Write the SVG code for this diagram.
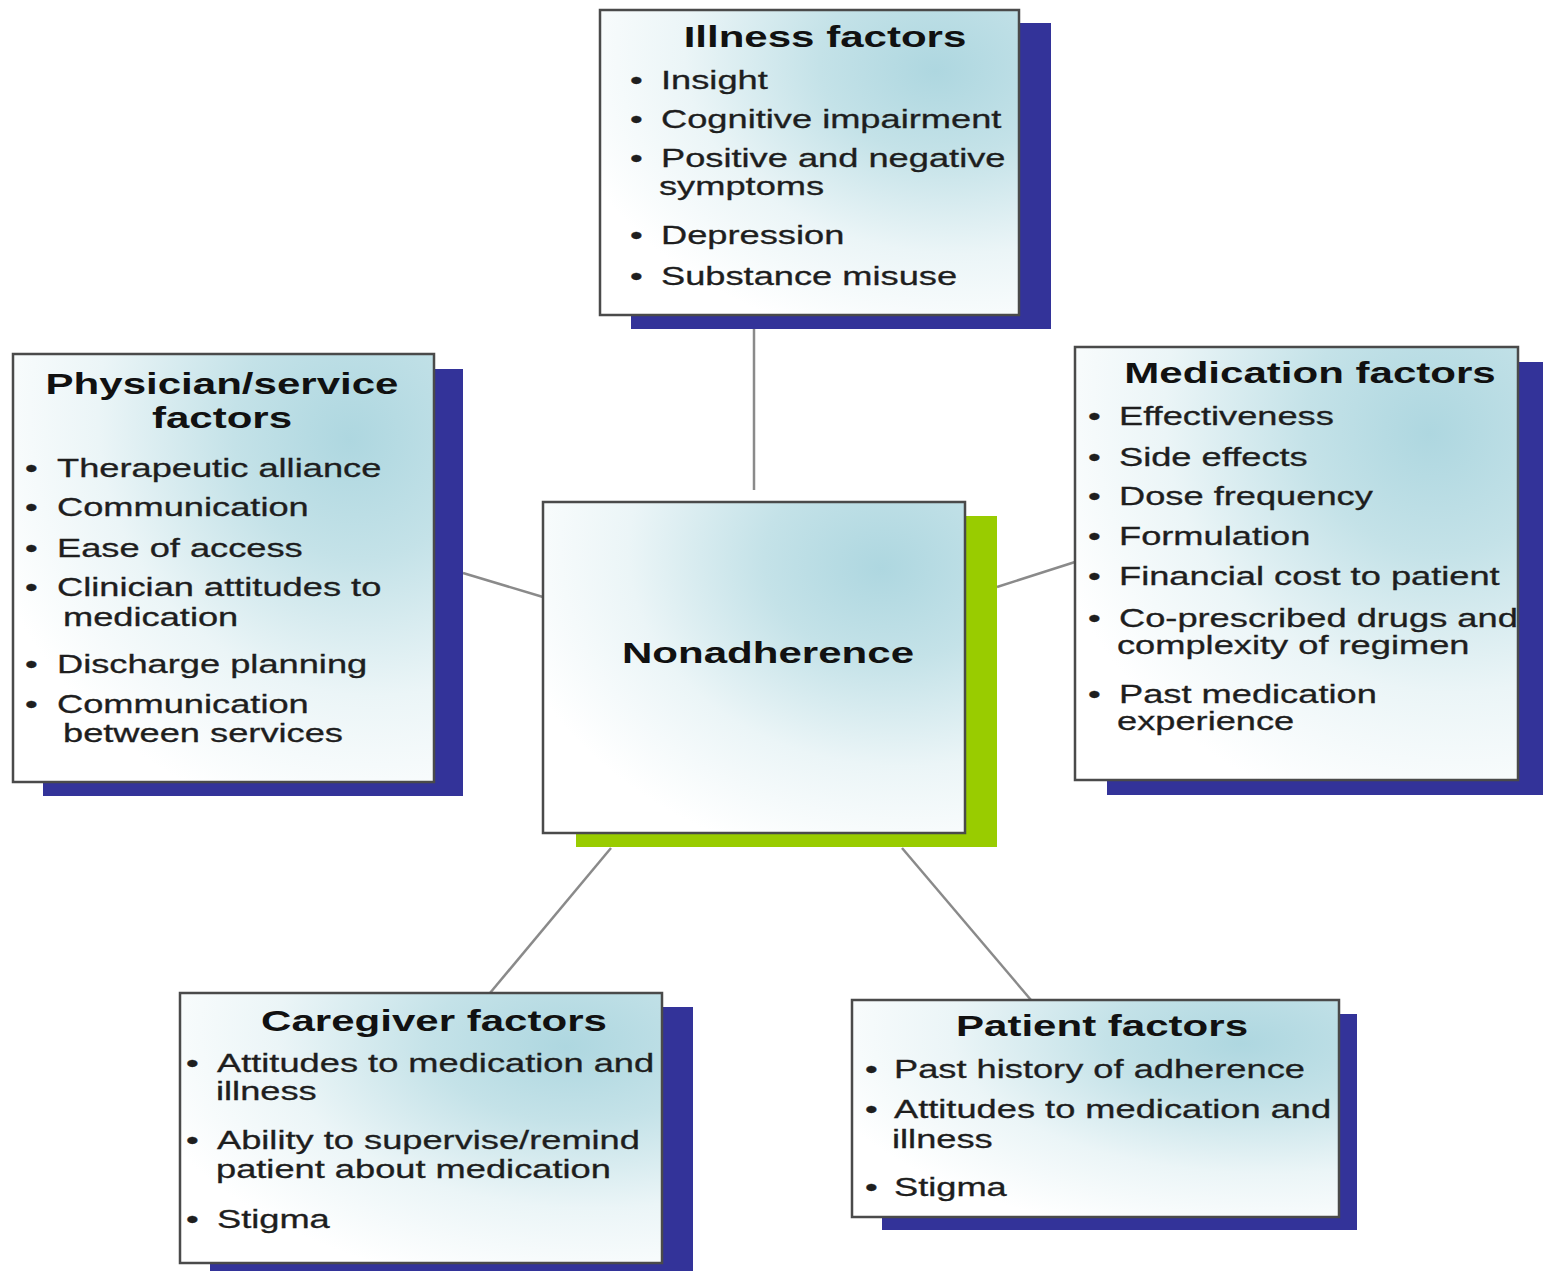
<svg xmlns="http://www.w3.org/2000/svg" width="1543" height="1271" viewBox="0 0 1543 1271">
<defs>
<radialGradient id="fillG" cx="0.88" cy="0.12" r="1.0" fx="0.8" fy="0.2">
<stop offset="0" stop-color="#AED7E0"/>
<stop offset="0.3" stop-color="#C4E2E8"/>
<stop offset="0.65" stop-color="#EBF5F7"/>
<stop offset="1" stop-color="#FFFFFF"/>
</radialGradient>
</defs>
<style>
.box{fill:url(#fillG);stroke:#4a4a4a;stroke-width:2.5}
.sh{fill:#333399}
.shg{fill:#99CC00}
.t{font-family:"Liberation Sans",Arial,sans-serif;font-weight:bold;font-size:29px;fill:#111;text-anchor:middle}
.b{font-family:"Liberation Sans",Arial,sans-serif;font-size:25px;fill:#1e1e1e;stroke:#1e1e1e;stroke-width:0.3}
.c{stroke:#8a8a8a;stroke-width:2.5;fill:none}
</style>
<rect width="1543" height="1271" fill="#fff"/>
<g id="connectors">
<line class="c" x1="754" y1="329" x2="754" y2="490"/>
<line class="c" x1="463" y1="573" x2="543" y2="597"/>
<line class="c" x1="997" y1="587" x2="1075" y2="562"/>
<line class="c" x1="611" y1="848" x2="490" y2="993"/>
<line class="c" x1="902" y1="848" x2="1031" y2="1000"/>
</g>
<g id="illness">
<rect class="sh" x="631" y="23" width="420" height="306"/>
<rect class="box" x="600" y="10" width="419" height="305"/>
<text class="t" transform="translate(825,47) scale(1.45,1)">Illness factors</text>
<text class="b" transform="translate(630,89) scale(1.45,1)">•</text>
<text class="b" transform="translate(661,89) scale(1.45,1)">Insight</text>
<text class="b" transform="translate(630,128) scale(1.45,1)">•</text>
<text class="b" transform="translate(661,128) scale(1.45,1)">Cognitive impairment</text>
<text class="b" transform="translate(630,167) scale(1.45,1)">•</text>
<text class="b" transform="translate(661,167) scale(1.45,1)">Positive and negative</text>
<text class="b" transform="translate(659,195) scale(1.45,1)">symptoms</text>
<text class="b" transform="translate(630,244) scale(1.45,1)">•</text>
<text class="b" transform="translate(661,244) scale(1.45,1)">Depression</text>
<text class="b" transform="translate(630,285) scale(1.45,1)">•</text>
<text class="b" transform="translate(661,285) scale(1.45,1)">Substance misuse</text>
</g>
<g id="physician">
<rect class="sh" x="43" y="369" width="420" height="427"/>
<rect class="box" x="13" y="354" width="421" height="428"/>
<text class="t" transform="translate(222,394) scale(1.45,1)">Physician/service</text>
<text class="t" transform="translate(222,428) scale(1.45,1)">factors</text>
<text class="b" transform="translate(25,477) scale(1.45,1)">•</text>
<text class="b" transform="translate(57,477) scale(1.45,1)">Therapeutic alliance</text>
<text class="b" transform="translate(25,516) scale(1.45,1)">•</text>
<text class="b" transform="translate(57,516) scale(1.45,1)">Communication</text>
<text class="b" transform="translate(25,557) scale(1.45,1)">•</text>
<text class="b" transform="translate(57,557) scale(1.45,1)">Ease of access</text>
<text class="b" transform="translate(25,596) scale(1.45,1)">•</text>
<text class="b" transform="translate(57,596) scale(1.45,1)">Clinician attitudes to</text>
<text class="b" transform="translate(63,626) scale(1.45,1)">medication</text>
<text class="b" transform="translate(25,673) scale(1.45,1)">•</text>
<text class="b" transform="translate(57,673) scale(1.45,1)">Discharge planning</text>
<text class="b" transform="translate(25,713) scale(1.45,1)">•</text>
<text class="b" transform="translate(57,713) scale(1.45,1)">Communication</text>
<text class="b" transform="translate(63,742) scale(1.45,1)">between services</text>
</g>
<g id="nonadherence">
<rect class="shg" x="576" y="516" width="421" height="331"/>
<rect class="box" x="543" y="502" width="422" height="331"/>
<text class="t" transform="translate(768,663) scale(1.45,1)">Nonadherence</text>
</g>
<g id="medication">
<rect class="sh" x="1107" y="362" width="443" height="433"/>
<rect class="box" x="1075" y="347" width="443" height="433"/>
<text class="t" transform="translate(1310,383) scale(1.45,1)">Medication factors</text>
<text class="b" transform="translate(1088,425) scale(1.45,1)">•</text>
<text class="b" transform="translate(1119,425) scale(1.45,1)">Effectiveness</text>
<text class="b" transform="translate(1088,466) scale(1.45,1)">•</text>
<text class="b" transform="translate(1119,466) scale(1.45,1)">Side effects</text>
<text class="b" transform="translate(1088,505) scale(1.45,1)">•</text>
<text class="b" transform="translate(1119,505) scale(1.45,1)">Dose frequency</text>
<text class="b" transform="translate(1088,545) scale(1.45,1)">•</text>
<text class="b" transform="translate(1119,545) scale(1.45,1)">Formulation</text>
<text class="b" transform="translate(1088,585) scale(1.45,1)">•</text>
<text class="b" transform="translate(1119,585) scale(1.45,1)">Financial cost to patient</text>
<text class="b" transform="translate(1088,627) scale(1.45,1)">•</text>
<text class="b" transform="translate(1119,627) scale(1.45,1)">Co-prescribed drugs and</text>
<text class="b" transform="translate(1117,654) scale(1.45,1)">complexity of regimen</text>
<text class="b" transform="translate(1088,703) scale(1.45,1)">•</text>
<text class="b" transform="translate(1119,703) scale(1.45,1)">Past medication</text>
<text class="b" transform="translate(1117,730) scale(1.45,1)">experience</text>
</g>
<g id="caregiver">
<rect class="sh" x="210" y="1007" width="483" height="270"/>
<rect class="box" x="180" y="993" width="482" height="270"/>
<text class="t" transform="translate(434,1031) scale(1.45,1)">Caregiver factors</text>
<text class="b" transform="translate(186,1072) scale(1.45,1)">•</text>
<text class="b" transform="translate(217,1072) scale(1.45,1)">Attitudes to medication and</text>
<text class="b" transform="translate(216,1100) scale(1.45,1)">illness</text>
<text class="b" transform="translate(186,1149) scale(1.45,1)">•</text>
<text class="b" transform="translate(217,1149) scale(1.45,1)">Ability to supervise/remind</text>
<text class="b" transform="translate(216,1178) scale(1.45,1)">patient about medication</text>
<text class="b" transform="translate(186,1228) scale(1.45,1)">•</text>
<text class="b" transform="translate(217,1228) scale(1.45,1)">Stigma</text>
</g>
<g id="patient">
<rect class="sh" x="882" y="1014" width="475" height="216"/>
<rect class="box" x="852" y="1000" width="487" height="217"/>
<text class="t" transform="translate(1102,1036) scale(1.45,1)">Patient factors</text>
<text class="b" transform="translate(865,1078) scale(1.45,1)">•</text>
<text class="b" transform="translate(894,1078) scale(1.45,1)">Past history of adherence</text>
<text class="b" transform="translate(865,1118) scale(1.45,1)">•</text>
<text class="b" transform="translate(894,1118) scale(1.45,1)">Attitudes to medication and</text>
<text class="b" transform="translate(892,1148) scale(1.45,1)">illness</text>
<text class="b" transform="translate(865,1196) scale(1.45,1)">•</text>
<text class="b" transform="translate(894,1196) scale(1.45,1)">Stigma</text>
</g>
</svg>
